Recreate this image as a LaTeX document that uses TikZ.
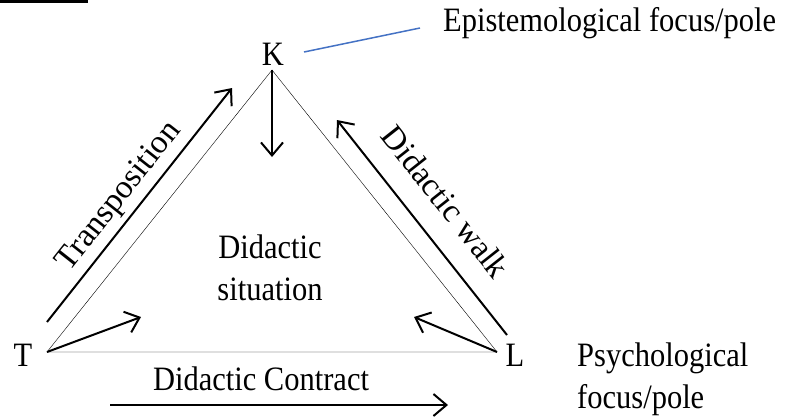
\documentclass[tikz,border=0pt]{standalone}
\usepackage{fontspec}
\usepackage{graphicx}
\setmainfont{Liberation Serif}
\usetikzlibrary{positioning,arrows.meta}
\definecolor{poleblue}{HTML}{4472C4}
\newcommand\tall[1]{\scalebox{1}[1.12]{#1}}
\begin{document}
\begin{tikzpicture}[x=1pt,y=-1pt,font=\fontsize{30.5}{42}\selectfont]
      \useasboundingbox (0,0) rectangle (792,416);
      \fill (0,0) rectangle (88,3);
      % corners of the triangle
      \coordinate (K) at (272,70);
      \coordinate (T) at (47,352);
      \coordinate (L) at (497,352);
      \begin{scope}[every node/.style={inner sep=0pt}]
        \node (Klab) [anchor=base] at (273,65) {\tall{K}};
        \node (Tlab) [anchor=base] at (23,366) {\tall{T}};
        \node (Llab) [anchor=base] at (515,366) {\tall{L}};
        \node (epi) [anchor=base west] at (443,31) {\tall{Epistemological focus/pole}};
        \node (psy) [anchor=base west] at (577,366) {\tall{Psychological}};
        \node (psy2) [anchor=base west] at (577,408) {\tall{focus/pole}};
        \node (sit) [anchor=base] at (270,258) {\tall{Didactic}};
        \node (sit2) [anchor=base] at (270,300) {\tall{situation}};
        \node (contract) [anchor=base] at (261,390) {\tall{Didactic Contract}};
      \end{scope}
      \draw[thin] (K) -- (T) -- (L) -- cycle;
      \draw[poleblue, line width=1.5pt] (304,52) -- (420,28);
      \coordinate (Kdown) at (272,157);
      \coordinate (Tin) at (141,317);
      \coordinate (Lin) at (414,317);
      \coordinate (transA) at (47,322);
      \coordinate (transB) at (232,88);
      \coordinate (walkA) at (507,335);
      \coordinate (walkB) at (337,120);
      \coordinate (contractA) at (110,405);
      \coordinate (contractB) at (448,405);
      \begin{scope}[every path/.style={draw, line width=2pt, -{Straight Barb[length=13pt,width=22pt]}}]
        \path (K) -- (Kdown);
        \path (T) -- (Tin);
        \path (L) -- (Lin);
        \path (transA) -- (transB);
        \path (walkA) -- (walkB);
        \path (contractA) -- (contractB);
      \end{scope}
      \begin{scope}[every node/.style={sloped, inner sep=0pt, font=\fontsize{33}{40}\selectfont}]
        \path (transA) -- node[above=6pt, pos=0.48] (trans) {Transposition} (transB);
        \path (walkB) -- node[above=23pt, pos=0.48] (walk) {Didactic walk} (walkA);
      \end{scope}
    \end{tikzpicture}
\end{document}
